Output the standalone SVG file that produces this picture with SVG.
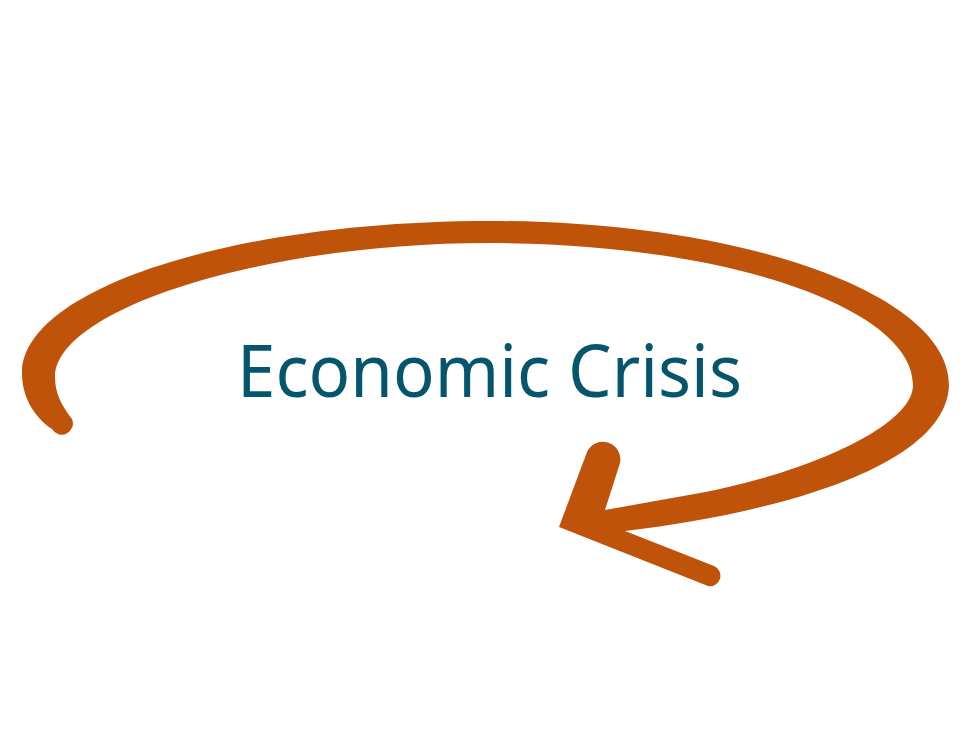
<svg xmlns="http://www.w3.org/2000/svg" width="978" height="743" viewBox="0 0 978 743">
  <style>
    .stroke { fill: #bf530a; }
    .label { font-family: "Noto Sans", "Open Sans", sans-serif; font-size: 73px; fill: #05566c; }
  </style>
  <rect width="978" height="743" fill="#ffffff"/>
  <g id="connectors">
    <path id="cycle-arrow" class="stroke" d="M 52,429 C 34,417 22,397 22,373 C 22,289 232,221 490,221 C 743,221 949,294 949,385 C 947,460 800,510 625,531 L 714,566 A 10.5 10.5 0 0 1 708,586 L 559,527 L 587,452 A 17.5 17.5 0 0 1 620,463 L 605,510 L 700,493 C 790,477 913,430 913,385 C 913,307 723,243 490,243 C 260,243 55,310 55,377 C 55,394 62,406 72,419 A 11.2 11.2 0 0 1 52,429 Z"/>
  </g>
  <g id="node-economic-crisis">
    <text class="label" x="237" y="397" textLength="505" lengthAdjust="spacingAndGlyphs">Economic Crisis</text>
  </g>
</svg>
